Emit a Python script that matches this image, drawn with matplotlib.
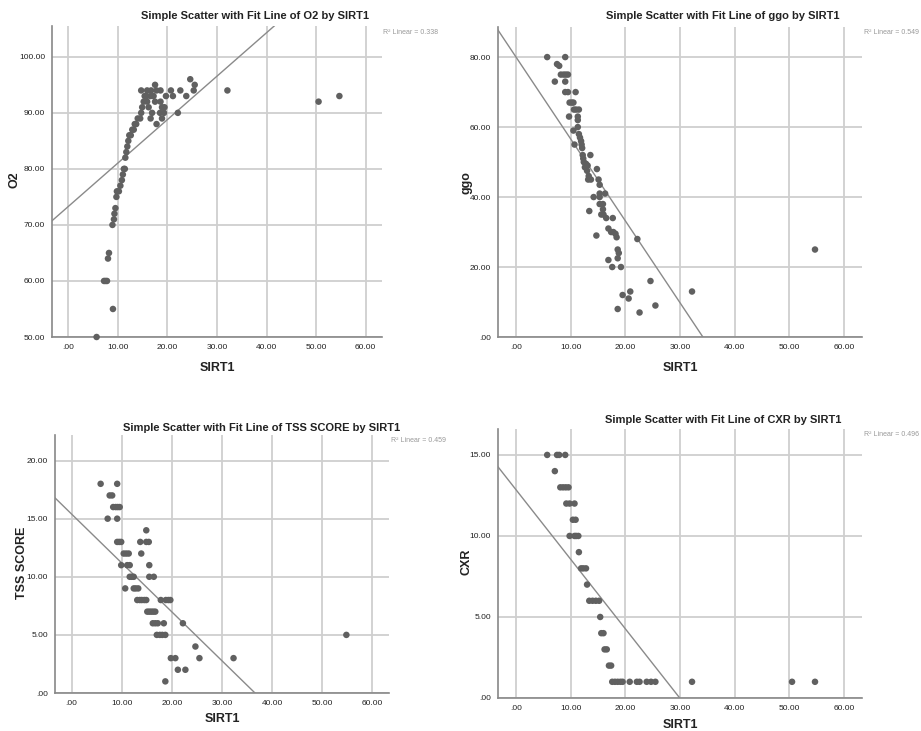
import matplotlib
matplotlib.use("Agg")
import matplotlib.pyplot as plt

plt.rcParams['font.family'] = ['Liberation Sans', 'DejaVu Sans']

# O2 by SIRT1
o2_x = [5.7, 9.0, 7.2, 7.5, 7.8, 8.0, 8.2, 8.9, 9.2, 9.3, 9.5, 9.7, 9.8, 10.2, 10.5, 10.8,
        11.0, 11.2, 11.4, 11.5, 11.7, 11.9, 12.1, 12.3, 12.6, 12.9, 13.2, 13.4, 13.7, 14.0,
        14.5, 14.7, 14.9, 15.2, 15.4, 15.9, 16.2, 16.6, 15.8, 17.2, 16.6, 16.9, 17.5, 18.5,
        18.6, 18.9, 19.3, 19.4, 18.9, 17.8, 14.7, 15.9, 16.7, 17.5, 17.8, 18.6, 19.7, 20.7,
        21.1, 22.6, 23.8, 24.6, 25.3, 25.5, 22.1, 32.1, 50.5, 54.7]
o2_y = [50, 55, 60, 60, 60, 64, 65, 70, 71, 72, 73, 75, 76, 76, 77, 78,
        79, 80, 80, 82, 83, 84, 85, 86, 86, 87, 87, 88, 88, 89,
        89, 90, 91, 92, 93, 92, 91, 93, 93, 93, 89, 90, 92, 90,
        92, 91, 90, 91, 89, 88, 94, 94, 94, 95, 94, 94, 93, 94,
        93, 94, 93, 96, 94, 95, 90, 94, 92, 93]

# ggo by SIRT1
ggo_x = [5.7, 9.0, 7.1, 7.5, 7.9, 8.2, 8.7, 9.1, 9.5, 9.0, 9.0, 9.5, 10.9, 9.8, 10.2, 10.5,
         9.7, 10.6, 11.0, 11.5, 11.3, 11.3, 11.3, 10.5, 11.5, 11.7, 11.9, 12.0, 12.1, 10.7,
         12.2, 12.3, 13.6, 12.4, 12.8, 12.6, 13.1, 13.0, 13.3, 13.7, 13.2, 14.8, 15.1, 15.3,
         14.2, 13.4, 15.3, 15.3, 16.3, 15.3, 15.9, 15.9, 16.0, 16.5, 15.6, 17.7, 16.9, 17.4,
         17.8, 18.2, 18.4, 14.7, 18.6, 18.8, 16.9, 18.6, 17.6, 19.2, 22.2, 24.6, 19.5, 20.9,
         20.6, 18.6, 22.6, 25.5, 32.2, 54.7]
ggo_y = [80, 80, 73, 78, 77.5, 75, 75, 75, 75, 73, 70, 70, 70, 67, 67, 67,
         63, 65, 65, 65, 63, 62, 60, 59, 58, 57, 56, 55, 54, 55,
         52, 51, 52, 50, 49.5, 48.5, 49, 47.5, 46, 45, 45, 48, 45, 43.5,
         40, 36, 41, 40, 41, 38, 38, 36.5, 35, 34, 35, 34, 31, 30,
         30, 29.5, 28.5, 29, 25, 24, 22, 22.5, 20, 20, 28, 16, 12, 13,
         11, 8, 7, 9, 13, 25]

# TSS SCORE by SIRT1
tss_x = [5.8, 9.1, 7.6, 8.1, 8.3, 8.8, 9.2, 9.6, 7.2, 9.1, 9.1, 9.5, 9.9, 9.9, 10.4, 10.9,
         11.4, 11.1, 11.6, 10.7, 11.6, 12.0, 12.4, 12.4, 12.8, 13.3, 13.1, 13.6, 14.0, 14.5,
         14.9, 13.7, 14.9, 15.4, 13.9, 14.9, 15.5, 15.5, 16.4, 15.1, 15.5, 15.9, 16.3, 16.7,
         16.2, 16.7, 17.2, 18.4, 17.0, 17.6, 18.1, 18.7, 17.8, 18.8, 19.3, 19.7, 22.2, 24.7,
         19.8, 20.7, 25.5, 21.2, 22.7, 18.7, 32.3, 54.8]
tss_y = [18, 18, 17, 17, 16, 16, 16, 16, 15, 15, 13, 13, 13, 11, 12, 12,
         12, 11, 11, 9, 10, 10, 10, 9, 9, 9, 8, 8, 8, 8,
         8, 13, 13, 13, 12, 14, 11, 10, 10, 7, 7, 7, 7, 7,
         6, 6, 6, 6, 5, 5, 5, 5, 8, 8, 8, 8, 6, 4,
         3, 3, 3, 2, 2, 1, 3, 5]

# CXR by SIRT1
cxr_x = [5.7, 7.5, 7.9, 9.0, 7.1, 8.1, 8.6, 9.1, 9.6, 9.2, 9.8, 10.7, 10.4, 10.9, 9.8, 10.7,
         11.0, 11.4, 11.5, 11.9, 12.3, 12.8, 13.0, 13.4, 14.0, 14.6, 15.2, 15.4, 15.6, 16.0,
         16.2, 16.6, 17.0, 17.4, 17.6, 18.1, 18.6, 19.1, 19.5, 20.8, 22.1, 22.6, 23.9, 24.7,
         25.5, 32.2, 50.5, 54.7]
cxr_y = [15, 15, 15, 15, 14, 13, 13, 13, 13, 12, 12, 12, 11, 11, 10, 10,
         10, 10, 9, 8, 8, 8, 7, 6, 6, 6, 6, 5, 4, 4,
         3, 3, 2, 2, 1, 1, 1, 1, 1, 1, 1, 1, 1, 1,
         1, 1, 1, 1]

names = ["O2", "ggo", "TSS SCORE", "CXR"]
xs = [o2_x, ggo_x, tss_x, cxr_x]
ys = [o2_y, ggo_y, tss_y, cxr_y]
fit_intercept = [73.3, 80.0, 15.4, 12.85]
fit_slope = [0.775, -2.34, -0.421, -0.429]
r2 = ["0.338", "0.549", "0.459", "0.496"]
y_ticks = [[50, 60, 70, 80, 90, 100], [0, 20, 40, 60, 80], [0, 5, 10, 15, 20], [0, 5, 10, 15]]
y_lims = [(50, 105.5), (0, 88.6), (0, 22.2), (0, 16.6)]
x_ticks = [0, 10, 20, 30, 40, 50, 60]

W, H = 921, 731
fig = plt.figure(figsize=(W / 100, H / 100), dpi=100)

# axes boxes in pixels: left, top, right, bottom
boxes = [(52, 26, 382, 337), (498, 27, 862, 337), (55, 435, 389, 693), (498, 429, 862, 698)]
title_pos = [(255, 16), (723, 16), (262, 428), (723, 420)]
r2_pos = [(383, 33), (864, 33), (391, 440), (864, 435)]
ylab_pos = [(15, 180), (466, 183), (22, 563), (466, 562)]
xlab_pos = [(217, 368), (680, 368), (222, 719), (680, 725)]


def fmt(v):
    s = "%.2f" % v
    return s[1:] if s.startswith("0") else s


for i in range(4):
    l, t, r, b = boxes[i]
    ax = fig.add_axes([l / W, 1 - b / H, (r - l) / W, (b - t) / H])
    ax.set_xlim(-3.3, 63.3)
    ax.set_ylim(*y_lims[i])
    ax.set_xticks(x_ticks)
    ax.set_xticklabels([fmt(v) for v in x_ticks])
    ax.set_yticks(y_ticks[i])
    ax.set_yticklabels([fmt(v) for v in y_ticks[i]])
    ax.tick_params(length=0, labelsize=6, colors="#222222", pad=5)
    ax.grid(True, color="#cfcfcf", linewidth=1.3)
    ax.set_axisbelow(True)
    for side in ["top", "right"]:
        ax.spines[side].set_visible(False)
    for side in ["left", "bottom"]:
        ax.spines[side].set_color("#888888")
        ax.spines[side].set_linewidth(1.2)

    ax.axline((0, fit_intercept[i]), slope=fit_slope[i], color="#8a8a8a", linewidth=1.0)
    ax.scatter(xs[i], ys[i], s=22, color="#606060", edgecolors="none", zorder=3, clip_on=False)

    tx, ty = title_pos[i]
    fig.text(tx / W, 1 - ty / H, "Simple Scatter with Fit Line of %s by SIRT1" % names[i],
             ha="center", va="center", fontsize=8, fontweight="bold", color="#222222")
    rx, ry = r2_pos[i]
    fig.text(rx / W, 1 - ry / H, "R\u00b2 Linear = " + r2[i], ha="left", va="center",
             fontsize=5, color="#999999")
    yx, yy = ylab_pos[i]
    fig.text(yx / W, 1 - yy / H, names[i], rotation=90, ha="center", va="center",
             fontsize=9, fontweight="bold", color="#222222")
    xx, xy = xlab_pos[i]
    fig.text(xx / W, 1 - xy / H, "SIRT1", ha="center", va="center",
             fontsize=9, fontweight="bold", color="#222222")

plt.savefig("out.png", dpi=100)
